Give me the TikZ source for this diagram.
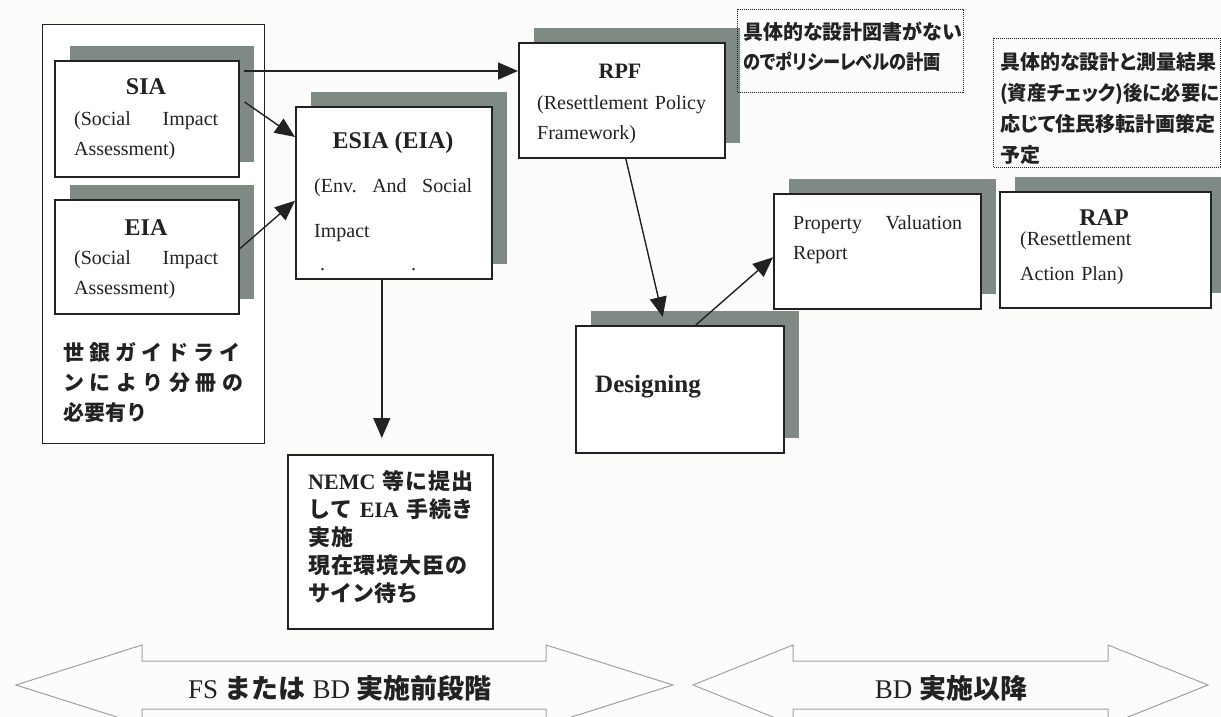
\documentclass[tikz,border=0pt]{standalone}
\usepackage{graphicx}
\usepackage{fontspec}
\setmainfont{Liberation Serif}
\newfontfamily\jp{Noto Sans CJK JP}
\newfontfamily\jpp[RawFeature=+palt]{Noto Sans CJK JP}
\usetikzlibrary{shadows,arrows.meta}
\newcommand\jb[1]{{\jp\bfseries #1}}
\newcommand\jbs[1]{{\jp\bfseries\addfontfeature{LetterSpace=4}#1}}
\definecolor{linecol}{HTML}{222222}
\definecolor{shadecol}{HTML}{7F8A85}
\definecolor{bgcol}{HTML}{FCFCFA}
\definecolor{arrowcol}{HTML}{A0A0A0}
\tikzset{
  box/.style={draw=linecol, line width=1.6pt, fill=white, inner sep=0pt, anchor=north west},
  shadowed/.style={general shadow={fill=shadecol, shadow xshift=15pt, shadow yshift=15pt}},
  notebox/.style={draw=linecol, line width=1.3pt, dash pattern=on 1pt off 1pt, inner sep=0pt, anchor=north west},
  frame/.style={draw=linecol, line width=1.3pt, fill=white, inner sep=0pt, anchor=north west},
  arr/.style={draw=linecol, line width=1.4pt, -{Triangle[length=20pt,width=17pt]}},
  txt/.style={inner sep=0pt, text=linecol},
  hd/.style={txt, anchor=base, font=\bfseries\fontsize{24}{30}\selectfont},
  body/.style={txt, anchor=base west, align=left, font=\fontsize{20}{30}\selectfont},
  barrow/.style={draw=arrowcol, line width=1pt, line join=miter},
}
\begin{document}
\begin{tikzpicture}[x=1pt,y=-1pt]
\useasboundingbox (0,0) rectangle (1221,717);
\fill[bgcol] (0,0) rectangle (1221,717);

% left frame
\node[frame, minimum width=222pt, minimum height=419pt] (outer) at (42,24) {};

% boxes
\node[box, shadowed, minimum width=184pt, minimum height=116pt] (sia) at (54,60) {};
\node[box, shadowed, minimum width=184pt, minimum height=114pt] (eia) at (54,199) {};
\node[box, shadowed, minimum width=196pt, minimum height=172pt] (esia) at (295,106) {};
\node[box, minimum width=205pt, minimum height=174pt] (nemc) at (287,454) {};
\node[box, shadowed, minimum width=206pt, minimum height=115pt] (rpf) at (518,42) {};
\node[notebox, minimum width=226pt, minimum height=83pt] (note1) at (737,9) {};
\node[notebox, minimum width=227pt, minimum height=129pt] (note2) at (993,38) {};
\node[box, shadowed, minimum width=207pt, minimum height=115pt] (prop) at (773,193) {};
\node[box, shadowed, minimum width=211pt, minimum height=116pt] (rap) at (999,191) {};
\node[box, shadowed, minimum width=208pt, minimum height=127pt] (design) at (575,325) {};

% texts
\node[hd] (siah) at (146,95) {SIA};
\node[body, text width=144pt] (siab) at (74,125) {(Social\hfill Impact\\Assessment)};
\node[hd] (eiah) at (146,235) {EIA};
\node[body, text width=144pt] (eiab) at (74,264) {(Social\hfill Impact\\Assessment)};
\node[hd] (esiah) at (393,148) {ESIA (EIA)};
\node[body, text width=158pt, font=\fontsize{20}{45}\selectfont] (esiab) at (314,192) {(Env.\hfill And\hfill Social\\Impact};
\node[body] (esiad) at (320,270) {.\hspace{86pt}.};
\node[hd, font=\bfseries\fontsize{22}{30}\selectfont] (rpfh) at (620,78) {RPF};
\node[body, text width=170pt, font=\fontsize{20}{31}\selectfont] (rpfb) at (537,109) {(Resettlement Policy\\Framework)};
\node[body, text width=169pt] (propb) at (793,229) {Property\hfill Valuation\\Report};
\node[hd] (raph) at (1104,225) {RAP};
\node[body, text width=170pt, font=\fontsize{20}{35}\selectfont] (rapb) at (1020,245) {(Resettlement\\Action Plan)};
\node[hd, anchor=base west, font=\bfseries\fontsize{25}{30}\selectfont] (desh) at (595,392) {Designing};

\node[body, text width=225pt, font=\jpp\bfseries\fontsize{20}{30}\selectfont] (note1t) at (743,40) {具体的な設計図書がない\\\scalebox{0.86}[1]{のでポリシーレベルの計画}};
\node[body, text width=225pt, font=\jpp\bfseries\fontsize{20}{31}\selectfont] (note2t) at (1000,70) {具体的な設計と測量結果\\\scalebox{0.97}[1]{(資産チェック)後に必要に}\\応じて住民移転計画策定\\予定};

\node[body, text width=190pt, font=\jp\bfseries\fontsize{21}{30}\selectfont] (outert) at (63,360) {\makebox[177pt][s]{世\hfil 銀\hfil ガ\hfil イ\hfil ド\hfil ラ\hfil イ}\\\makebox[180pt][s]{ン\hfil に\hfil よ\hfil り\hfil 分\hfil 冊\hfil の}\\必要有り};

\node[body, text width=195pt, font=\bfseries\fontsize{22}{28}\selectfont] (nemct) at (308,489) {NEMC \jbs{等に提出}\\\jbs{して} EIA \jbs{手続き}\\\jbs{実施}\\\jbs{現在環境大臣の}\\\jb{サイン待ち}};

% connectors
\coordinate (s1) at ([xshift=4pt,yshift=-11pt]sia.north east);
\draw[arr] (s1) -- (s1 -| rpf.west);
\draw[arr] ([xshift=5pt,yshift=-42pt]sia.north east) -- ([yshift=-31pt]esia.north west);
\draw[arr] ([yshift=8pt]eia.east) -- ([yshift=-8pt]esia.west);
\coordinate (d1) at ([xshift=-12pt]esia.south);
\draw[arr, shorten >=16pt] (d1) -- (d1 |- nemc.north);
\draw[arr] ([xshift=4pt]rpf.south) -- ([xshift=-17pt,yshift=8pt]design.north);
\draw[arr] ([xshift=16pt]design.north) -- ([yshift=-6pt]prop.west);

% bottom phase arrows
\draw[barrow] (16,685) -- (142,645) -- (142,661) -- (546,661) -- (546,645) -- (673,685) -- (546,725) -- (546,709) -- (142,709) -- (142,725) -- cycle;
\draw[barrow] (693,685) -- (793,645) -- (793,661) -- (1108,661) -- (1108,645) -- (1208,685) -- (1108,725) -- (1108,709) -- (793,709) -- (793,725) -- cycle;
\node[txt, font=\fontsize{27}{30}\selectfont] (ph1) at (340,688) {FS \jb{または} BD \jb{実施前段階}};
\node[txt, font=\fontsize{27}{30}\selectfont] (ph2) at (951,688) {BD \jb{実施以降}};
\end{tikzpicture}
\end{document}
